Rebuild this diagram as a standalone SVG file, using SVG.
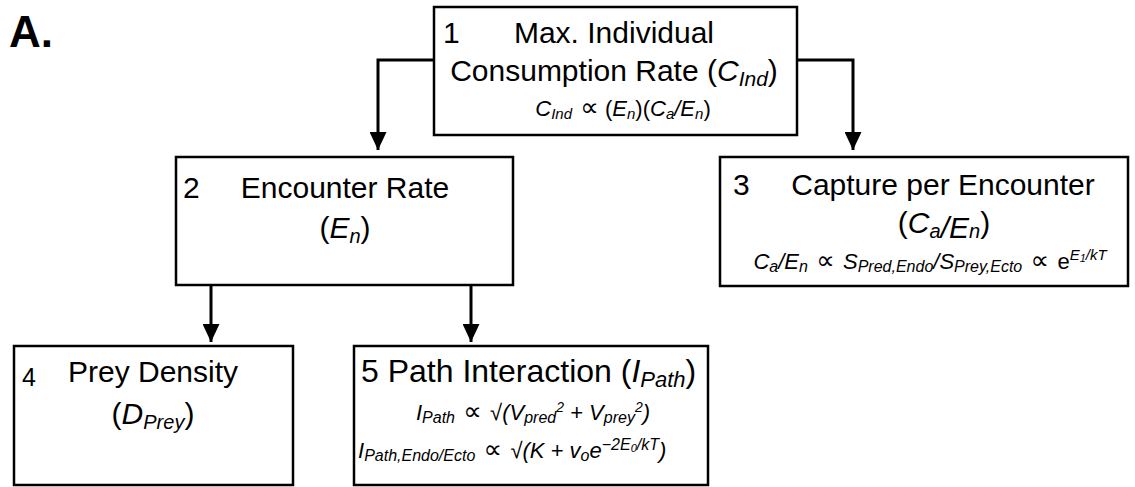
<svg xmlns="http://www.w3.org/2000/svg" width="1135" height="487" viewBox="0 0 1135 487">
<defs>
<style>
text{font-family:"Liberation Sans",Arial,Helvetica,sans-serif;fill:#000}
.t{font-size:30px}
.f{font-size:22px;font-style:italic}
.box{fill:#fff;stroke:#000;stroke-width:2.5}
.c{fill:none;stroke:#000;stroke-width:3}
.n{font-style:normal}
.p{font-style:normal;font-family:"DejaVu Sans",sans-serif;font-size:26px}
</style>
<marker id="ah" viewBox="0 0 18 17" refX="18" refY="8.5" markerWidth="18" markerHeight="17" markerUnits="userSpaceOnUse" orient="auto">
<path d="M0,0 L18,8.5 L0,17 Z" fill="#000"/>
</marker>
</defs>
<rect width="1135" height="487" fill="#fff"/>
<text x="9" y="47" font-size="44" font-weight="bold">A.</text>
<g id="connectors">
<path class="c" d="M434,60 H378 V150" marker-end="url(#ah)"/>
<path class="c" d="M797,60 H853 V150" marker-end="url(#ah)"/>
<path class="c" d="M211,285 V342" marker-end="url(#ah)"/>
<path class="c" d="M471,285 V342" marker-end="url(#ah)"/>
</g>
<g id="node1">
<rect class="box" x="434" y="7" width="363" height="128"/>
<text class="t" x="443" y="43">1</text>
<text class="t" x="614" y="43" text-anchor="middle">Max. Individual</text>
<text class="t" x="614" y="81" text-anchor="middle">Consumption Rate (<tspan font-style="italic">C<tspan font-size="21" dy="5">Ind</tspan></tspan><tspan dy="-5">)</tspan></text>
<text class="f" x="623" y="116" text-anchor="middle">C<tspan font-size="15" dy="3">Ind</tspan><tspan class="p" dy="-3"> ∝</tspan><tspan class="n"> (</tspan>E<tspan font-size="15" dy="3">n</tspan><tspan class="n" dy="-3">)(</tspan>C<tspan font-size="15" dy="3">a</tspan><tspan dy="-3">/E</tspan><tspan font-size="15" dy="3">n</tspan><tspan class="n" dy="-3">)</tspan></text>
</g>
<g id="node2">
<rect class="box" x="176" y="157" width="337" height="128"/>
<text class="t" x="183" y="198">2</text>
<text class="t" x="345" y="198" text-anchor="middle">Encounter Rate</text>
<text class="t" x="345" y="238" text-anchor="middle">(<tspan font-style="italic">E<tspan font-size="20" dy="5">n</tspan></tspan><tspan dy="-5">)</tspan></text>
</g>
<g id="node3">
<rect class="box" x="720" y="157" width="408" height="129"/>
<text class="t" x="733" y="195">3</text>
<text class="t" x="943" y="195" text-anchor="middle">Capture per Encounter</text>
<text class="t" x="944" y="233" text-anchor="middle">(<tspan font-style="italic">C<tspan font-size="20" dy="5">a</tspan>/E<tspan font-size="20">n</tspan></tspan><tspan dy="-5">)</tspan></text>
<text class="f" x="930" y="269" text-anchor="middle">C<tspan font-size="16" dy="3">a</tspan><tspan dy="-3">/E</tspan><tspan font-size="16" dy="3">n</tspan><tspan class="p" dy="-3"> ∝ </tspan>S<tspan font-size="16" dy="3">Pred,Endo</tspan><tspan dy="-3">/S</tspan><tspan font-size="16" dy="3">Prey,Ecto</tspan><tspan class="p" dy="-3"> ∝ </tspan><tspan class="n">e</tspan><tspan font-size="15" dy="-9">E</tspan><tspan font-size="11" dy="2">1</tspan><tspan font-size="15" dy="-2">/kT</tspan></text>
</g>
<g id="node4">
<rect class="box" x="14" y="346" width="279" height="139"/>
<text x="22" y="386" font-size="25">4</text>
<text class="t" x="153" y="382" text-anchor="middle">Prey Density</text>
<text class="t" x="153" y="424" text-anchor="middle">(<tspan font-style="italic">D<tspan font-size="20" dy="5">Prey</tspan></tspan><tspan dy="-5">)</tspan></text>
</g>
<g id="node5">
<rect class="box" x="354" y="346" width="354" height="139"/>
<text x="361" y="382" font-size="32">5  Path Interaction (<tspan font-style="italic">I<tspan font-size="22" dy="5">Path</tspan></tspan><tspan dy="-5">)</tspan></text>
<text class="f" x="650" y="420" text-anchor="end">I<tspan font-size="16" dy="3">Path</tspan><tspan class="p" dy="-3"> ∝ </tspan><tspan class="n">√</tspan>(V<tspan font-size="16" dy="3">pred</tspan><tspan font-size="14" dy="-11">2</tspan><tspan dy="8"> + V</tspan><tspan font-size="16" dy="3">prey</tspan><tspan font-size="14" dy="-11">2</tspan><tspan dy="8">)</tspan></text>
<text class="f" x="358" y="458">I<tspan font-size="16" dy="3">Path,Endo/Ecto</tspan><tspan class="p" dy="-3"> ∝ </tspan><tspan class="n">√</tspan>(K + v<tspan font-size="16" dy="3">o</tspan><tspan dy="-3">e</tspan><tspan font-size="16" dy="-8">−2E</tspan><tspan font-size="11" dy="2">0</tspan><tspan font-size="16" dy="-2">/kT</tspan><tspan dy="8">)</tspan></text>
</g>
</svg>
